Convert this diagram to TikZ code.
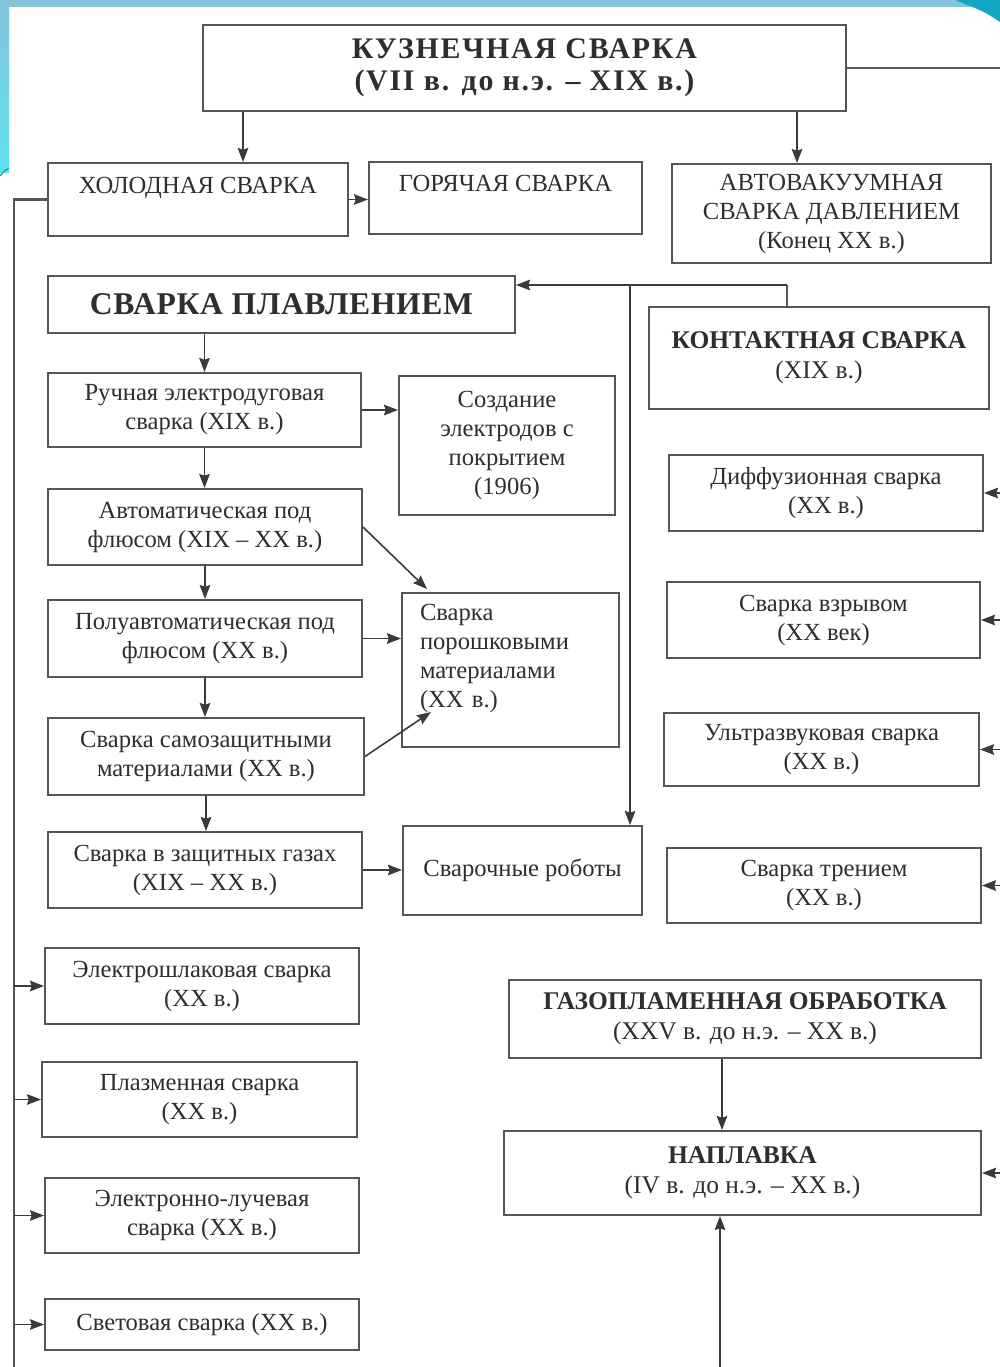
\documentclass[tikz,border=0pt]{standalone}
\usepackage{fontspec}
\setmainfont{Liberation Serif}
\usetikzlibrary{arrows.meta,calc,positioning}
\definecolor{boxline}{HTML}{555555}
\definecolor{linkline}{HTML}{3A3A3A}
\definecolor{txt}{HTML}{2E2E2E}
\definecolor{bandblue}{HTML}{84C4DB}
\definecolor{bandcyan}{HTML}{5FE0EE}
\definecolor{bandteal}{HTML}{14A6C3}

\begin{document}
\begin{tikzpicture}[x=0.2mm, y=-0.2mm,
    box/.style 2 args={draw=boxline, line width=1.1pt, text=txt, fill=white,
      minimum width=#1*0.2mm, minimum height=#2*0.2mm,
      inner sep=0pt, align=center, font=\fontsize{14}{16.5}\selectfont},
    big/.style={font=\fontsize{14.5}{17}\selectfont},
    link/.style={draw=linkline, line width=0.9pt,
      -{Stealth[length=8pt, width=6pt, inset=1pt]}},
    bus/.style={draw=boxline, line width=1.3pt}]

  \useasboundingbox (0,0) rectangle (1000,1367);
  \fill[white] (0,0) rectangle (1000,1367);
  \fill[bandblue] (0,0) rectangle (1000,7);
  \shade[top color=bandblue, bottom color=bandcyan] (0,0) rectangle (9,172);
  \fill[bandteal] (955,0) -- (1000,0) -- (1000,22) .. controls (985,12) .. (955,0);
  \draw[bandteal, line width=0.8pt] (0,176) .. controls (4,171) .. (9,168);
  \draw[bandcyan, line width=0.8pt] (0,170) .. controls (4,166) .. (9,163);

  \node[box={643}{86}, font=\bfseries\fontsize{17}{18.5}\selectfont\addfontfeature{LetterSpace=6}] (kuz) at (524.5,68)
    {КУЗНЕЧНАЯ СВАРКА\\(VII в. до н.э. – XIX в.)};
  \node[box={300}{73}] (hol) at (198,199.5) {ХОЛОДНАЯ СВАРКА\\~};
  \node[box={273}{72}] (gor) at (505.5,198) {ГОРЯЧАЯ СВАРКА\\~};
  \node[box={319}{99}] (avto) at (831.5,213.5)
    {АВТОВАКУУМНАЯ\\СВАРКА ДАВЛЕНИЕМ\\(Конец XX в.)};
  \node[box={467}{57}, font=\bfseries\fontsize{18}{20}\selectfont\addfontfeature{LetterSpace=2}] (plav) at (281.5,304.5)
    {СВАРКА ПЛАВЛЕНИЕМ};
  \node[box={340}{102}, big] (kont) at (819,358)
    {{\bfseries КОНТАКТНАЯ СВАРКА}\\(XIX в.)};

  \node[box={313}{74}] (ruch) at (204.5,410) {Ручная электродуговая\\сварка (XIX в.)};
  \node[box={216}{139}] (soz) at (507,445.5)
    {Создание\\электродов с\\покрытием\\(1906)};
  \node[box={314}{76}] (avtom) at (205,527) {Автоматическая под\\флюсом (XIX – XX в.)};
  \node[box={217}{154}, text width=181*0.2mm, align=left] (porosh) at (510.5,670)
    {Сварка\\порошковыми\\материалами\\(XX в.)\\~};
  \node[box={314}{77}] (polu) at (205,638.5) {Полуавтоматическая под\\флюсом (XX в.)};
  \node[box={316}{77}] (samo) at (206,756.5) {Сварка самозащитными\\материалами (XX в.)};
  \node[box={314}{76}] (gaz) at (205,870) {Сварка в защитных газах\\(XIX – XX в.)};
  \node[box={239}{89}] (robot) at (522.5,870.5) {Сварочные роботы};

  \node[box={314}{76}] (diff) at (826,493) {Диффузионная сварка\\(XX в.)};
  \node[box={313}{76}] (vzryv) at (823.5,620) {Сварка взрывом\\(XX век)};
  \node[box={315}{73}] (ultra) at (821.5,749.5) {Ультразвуковая сварка\\(XX в.)};
  \node[box={314}{75}] (tren) at (824,885.5) {Сварка трением\\(XX в.)};

  \node[box={314}{76}] (shlak) at (202,986) {Электрошлаковая сварка\\(XX в.)};
  \node[box={315}{75}] (plasm) at (199.5,1099.5) {Плазменная сварка\\(XX в.)};
  \node[box={314}{75}] (eluch) at (202,1215.5) {Электронно-лучевая\\сварка (XX в.)};
  \node[box={314}{51}] (svet) at (202,1324.5) {Световая сварка (XX в.)};

  \node[box={472}{78}, big] (gazopl) at (745,1019)
    {{\bfseries ГАЗОПЛАМЕННАЯ ОБРАБОТКА}\\(XXV в. до н.э. – XX в.)};
  \node[box={477}{84}, big] (nap) at (742.5,1173)
    {{\bfseries НАПЛАВКА}\\(IV в. до н.э. – XX в.)};

  \coordinate (lbus) at (14,1367);
  \coordinate (rbus) at (1000,0);
  \coordinate (ktop) at (787,285);
  \coordinate (bot) at (720,1367);

  \draw[link] (243,0 |- kuz.south) -- (243,0 |- hol.north);
  \draw[link] (797,0 |- kuz.south) -- (797,0 |- avto.north);
  \draw[bus] (kuz.east) -- (rbus |- kuz.east);
  \draw[link] (hol.east) -- (hol.east -| gor.west);
  \draw[bus] (hol.west) -| (lbus);
  \foreach \n in {shlak, plasm, eluch, svet}
    \draw[link] (lbus |- \n.west) -- (\n.west);
  \foreach \n in {diff, vzryv, ultra, tren, nap}
    \draw[link] (rbus |- \n.east) -- (\n.east);

  \draw[bus] (kont.north -| ktop) -- (ktop);
  \draw[link] (ktop) -- (ktop -| plav.east);
  \draw[link] (ktop -| 630,0) -- (630,0 |- robot.north);

  \draw[link] (ruch.north |- plav.south) -- (ruch.north);
  \foreach \a/\b in {ruch/avtom, avtom/polu, polu/samo, samo/gaz}
    \draw[link] (\a.south) -- (\a.south |- \b.north);
  \foreach \a/\b in {ruch/soz, polu/porosh, gaz/robot}
    \draw[link] (\a.east) -- (\a.east -| \b.west);
  \draw[link] (avtom.east) -- ($(porosh.north west)+(26,-3)$);
  \draw[link] (samo.east) -- ($(porosh.south west)+(30,-36)$);

  \draw[link] (722,0 |- gazopl.south) -- (722,0 |- nap.north);
  \draw[link] (bot) -- (bot |- nap.south);
\end{tikzpicture}
\end{document}
